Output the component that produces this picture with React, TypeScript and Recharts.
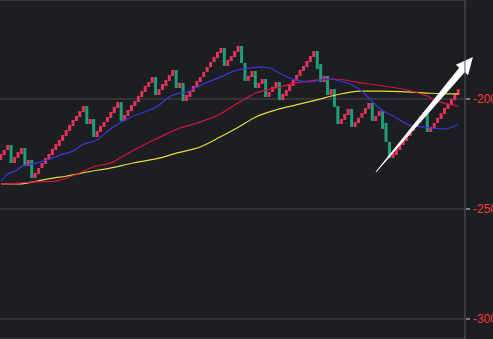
import { ComposedChart, Bar, Line, Cell, XAxis, YAxis, CartesianGrid, ReferenceLine } from 'recharts';

// renko bricks, one column each (open -> close)
const opens = [
  -227.7, -225.5, -223.2, -220.9, -229.1, -226.8, -225, -222.3, -230.5, -227.7,
  -235.9, -234.1, -231.4, -229.5, -227.7, -225.5, -223.2, -221.4, -219.1, -216.8,
  -214.5, -212.3, -210, -208.2, -205.9, -203.2, -211.4, -209.1, -217.3, -215,
  -212.7, -210.5, -208.6, -206.4, -204.1, -201.4, -210, -207.7, -205.5, -203.2,
  -201.4, -199.1, -196.8, -194.5, -192.7, -190, -198.2, -195.9, -194.1, -191.8,
  -189.5, -186.8, -195, -192.7, -200.9, -199.1, -196.8, -194.5, -192.3, -190,
  -187.7, -185.5, -183.2, -181.4, -179.1, -176.8, -185, -182.7, -180.9, -178.6,
  -175.9, -183.6, -191.8, -190, -187.3, -195, -193.2, -190.9, -199.1, -196.8,
  -195, -192.3, -200.5, -198.6, -196.4, -194.1, -191.8, -189.5, -187.3, -185.5,
  -183.2, -180.9, -178.2, -184.1, -192.3, -189.5, -198.2, -195.5, -203.2, -211.4,
  -209.5, -207.3, -204.5, -212.7, -210.9, -208.6, -206.8, -204.5, -201.8, -210,
  -207.7, -205.5, -210.9, -219.5, -226.8, -225.5, -223.2, -220.9, -219.1, -216.8,
  -214.5, -212.7, -210.5, -208.2, -205.9, -215, -213.2, -210.9, -209.1, -206.8,
  -204.5, -202.7, -200.5, -198.2,
];
const closes = [
  -225, -223.2, -220.9, -229.1, -226.4, -224.1, -222.3, -230.5, -227.7, -235.9,
  -233.6, -231.4, -229.1, -226.8, -225, -222.7, -220.5, -218.6, -216.4, -214.1,
  -211.8, -209.5, -207.7, -205.5, -203.2, -211.4, -209.1, -217.3, -214.5, -212.3,
  -210.5, -208.2, -205.9, -203.6, -201.4, -210, -207.3, -205, -202.7, -200.9,
  -198.6, -196.4, -194.1, -192.3, -190, -198.2, -195.5, -193.2, -191.4, -189.1,
  -186.8, -195, -192.7, -200.9, -198.2, -196.4, -194.1, -191.8, -190, -187.7,
  -185.5, -183.2, -180.9, -178.6, -176.8, -185, -182.3, -180.5, -178.2, -175.9,
  -183.6, -191.8, -189.5, -187.3, -195, -192.7, -190.9, -199.1, -196.8, -194.5,
  -192.3, -200.5, -197.7, -195.9, -193.6, -191.4, -189.1, -186.8, -185, -182.7,
  -180.5, -178.2, -186.4, -192.3, -189.5, -198.2, -195.5, -203.6, -211.4, -209.1,
  -206.8, -204.5, -212.7, -210.5, -208.6, -206.4, -204.1, -201.8, -210, -207.7,
  -205.5, -213.6, -219.5, -226.8, -224.5, -222.7, -220.5, -218.2, -216.4, -214.1,
  -211.8, -210, -207.7, -205.9, -215, -212.7, -210.9, -208.6, -206.4, -204.1,
  -202.3, -200, -197.7, -195.5,
];

// moving averages, read at sample columns
const maFastIdx = [0, 2, 4.7, 6.1, 9.3, 13.4, 17.2, 21.5, 23.5, 27.9, 32.6, 34.6, 37.8, 45.6, 49.4, 52, 54.1, 58.2, 63.1, 68.9, 72.4, 75.3, 78.2, 80.8, 84, 86.9, 89.8, 92.7, 95.6, 98.5, 101.5, 105.2, 108.1, 111.1, 114, 116.9, 119.8, 122.7, 125.6, 128.5, 131.4, 132.9];
const maFastVal = [-237.3, -234.1, -232.3, -230.5, -229.5, -227.7, -225.5, -223.2, -220.9, -218.6, -212.7, -210.9, -208.2, -203.2, -198.6, -197.3, -196.8, -193.6, -190.5, -186.8, -185.9, -185.5, -185.9, -188.2, -190.5, -191.8, -192.3, -191.4, -190.9, -191.8, -193.2, -196.8, -201.4, -205.5, -207.7, -210.5, -212.3, -212.7, -213.2, -213.6, -212.7, -211.4];

const maMidIdx = [0, 5.5, 9.3, 15.7, 22.1, 26.7, 32.6, 34.6, 40.4, 46.2, 52, 57.9, 63.1, 68.9, 74.1, 79.9, 85.8, 91.6, 97.4, 103.2, 111.1, 118, 123.8, 127.6, 131.4, 132.9];
const maMidVal = [-238.6, -238.2, -237.7, -237.3, -234.1, -230.9, -228.6, -226.8, -221.8, -217.3, -213.2, -210.5, -207.3, -201.8, -197.3, -195, -192.7, -191.4, -190.9, -192.3, -194.1, -195.9, -198.6, -201.4, -202.7, -203.2];

const maSlowIdx = [0, 5.5, 9.3, 13.4, 19.2, 25, 31.7, 38.4, 46.2, 51.2, 57.9, 63.7, 68.6, 74.1, 79.9, 85.8, 91.6, 97.4, 104.4, 111.1, 118, 123.8, 131.4, 132.9];
const maSlowVal = [-238.6, -238.6, -237.7, -236.4, -235, -233.2, -231.4, -229.1, -226.8, -224.5, -221.8, -217.3, -213.2, -208.2, -205, -202.7, -200.5, -198.2, -196.4, -196.4, -196.8, -197.3, -197.7, -197.7];

const yTicks = [-300, -250, -200];

// hand-drawn arrow annotation (column, price)
const arrowFrom = { i: 109, v: -233.2 };
const arrowTo = { i: 137.2, v: -180.9 };

const UP = '#e5335a';
const DOWN = '#1e9e78';
const X_DOMAIN = [-0.29, 134.9];

const bricks = opens.map((o, i) => ({
  i,
  range: [Math.min(o, closes[i]), Math.max(o, closes[i])],
  up: closes[i] > o,
}));

const toLine = (idx: number[], val: number[]) => idx.map((i, k) => ({ i, v: val[k] }));

function PriceTick({ x, y, payload }: any) {
  return (
    <g>
      <line x1={x + 1} y1={y} x2={x + 5} y2={y} stroke="#d8d8d8" />
      <text x={x + 8} y={y + 4} fill="#f23b3b" fontSize={12} fontFamily="'Liberation Sans', Arial, sans-serif">
        {payload.value}
      </text>
    </g>
  );
}

function Arrow(props: any) {
  const { x1, y1, x2, y2 } = props;
  const dx = x2 - x1;
  const dy = y2 - y1;
  const len = Math.sqrt(dx * dx + dy * dy);
  const ux = dx / len;
  const uy = dy / len;
  const nx = -uy;
  const ny = ux;
  const headLen = 17;
  const bx = x2 - ux * headLen;
  const by = y2 - uy * headLen;
  const w0 = 0.4;
  const w1 = 3.6;
  const hw = 8;
  const pts = [
    [x1 + nx * w0, y1 + ny * w0],
    [bx + nx * w1, by + ny * w1],
    [bx + nx * hw, by + ny * hw],
    [x2, y2],
    [bx - nx * hw, by - ny * hw],
    [bx - nx * w1, by - ny * w1],
    [x1 - nx * w0, y1 - ny * w0],
  ];
  return <polygon points={pts.map((p) => p.join(',')).join(' ')} fill="#ffffff" />;
}

export default function App() {
  return (
    <div style={{ position: 'absolute', left: 0, top: 0, width: 493, height: 339, background: '#1d1e22' }}>
      <ComposedChart width={493} height={339} data={bricks} margin={{ top: 0, right: 0, bottom: 0, left: 0 }}>
        <CartesianGrid horizontal vertical={false} stroke="#4a4b50" />
        <XAxis xAxisId="bricks" dataKey="i" type="number" domain={X_DOMAIN} hide allowDataOverflow />
        <XAxis xAxisId="ma" dataKey="i" type="number" domain={X_DOMAIN} hide allowDataOverflow />
        <YAxis
          orientation="right"
          width={28}
          domain={[-309.1, -155]}
          ticks={yTicks}
          allowDataOverflow
          axisLine={{ stroke: '#55565c' }}
          tickLine={false}
          tickSize={0}
          tickMargin={0}
          tick={<PriceTick />}
        />
        <Bar xAxisId="bricks" dataKey="range" barSize={3} isAnimationActive={false}>
          {bricks.map((b) => (
            <Cell key={b.i} fill={b.up ? UP : DOWN} />
          ))}
        </Bar>
        <Line xAxisId="ma" data={toLine(maSlowIdx, maSlowVal)} dataKey="v" type="monotone" stroke="#e3dc3c" strokeWidth={1.2} dot={false} activeDot={false} isAnimationActive={false} />
        <Line xAxisId="ma" data={toLine(maMidIdx, maMidVal)} dataKey="v" type="monotone" stroke="#d4143c" strokeWidth={1.2} dot={false} activeDot={false} isAnimationActive={false} />
        <Line xAxisId="ma" data={toLine(maFastIdx, maFastVal)} dataKey="v" type="monotone" stroke="#3a36d8" strokeWidth={1.2} dot={false} activeDot={false} isAnimationActive={false} />
        <ReferenceLine
          xAxisId="ma"
          segment={[
            { x: arrowFrom.i, y: arrowFrom.v },
            { x: arrowTo.i, y: arrowTo.v },
          ]}
          ifOverflow="visible"
          shape={<Arrow />}
        />
      </ComposedChart>
    </div>
  );
}
